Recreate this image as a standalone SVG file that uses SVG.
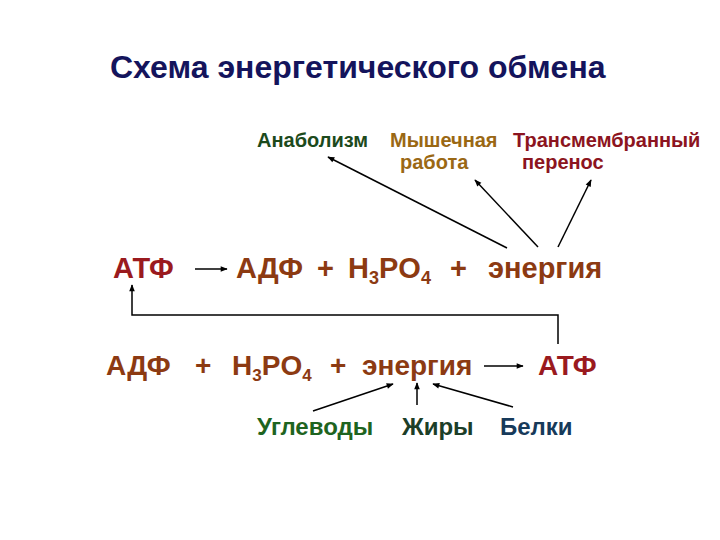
<svg xmlns="http://www.w3.org/2000/svg" width="720" height="540" viewBox="0 0 720 540">
<style>
text{font-family:"Liberation Sans",Arial,sans-serif;font-weight:bold}
.t{font-size:32px;fill:#14145c}
.lab{font-size:20px}
.eq{font-size:29px}
.eq2{font-size:28px}
.bot{font-size:24px}
.ln{stroke:#000;stroke-width:1.5;fill:none}
</style>
<defs>
<marker id="ah" viewBox="0 0 10 10" refX="9" refY="5" markerWidth="8" markerHeight="7" markerUnits="userSpaceOnUse" orient="auto">
<path d="M0,1 L10,5 L0,9 Z" fill="#000"/>
</marker>
</defs>
<rect width="720" height="540" fill="#fff"/>
<g id="title"><text class="t" x="110" y="78">Схема энергетического обмена</text></g>
<g id="anabolism"><text class="lab" x="257" y="147" fill="#1c4a1c">Анаболизм</text></g>
<g id="muscle"><text class="lab" x="390" y="147" fill="#9a6814">Мышечная</text><text class="lab" x="400" y="169" fill="#9a6814">работа</text></g>
<g id="transport"><text class="lab" x="513" y="147" fill="#8c1420">Трансмембранный</text><text class="lab" x="522" y="169" fill="#8c1420">перенос</text></g>
<g id="row1">
<text class="eq" x="113" y="278" fill="#9a1a1e">АТФ</text>
<text class="eq" x="236" y="278" fill="#8c3a12">АДФ</text>
<text class="eq" x="317" y="278" fill="#8c3a12">+</text>
<text class="eq" x="348" y="278" fill="#8c3a12">H<tspan font-size="18" dy="6">3</tspan><tspan dy="-6">PO</tspan><tspan font-size="18" dy="6">4</tspan></text>
<text class="eq" x="450" y="278" fill="#8c3a12">+</text>
<text class="eq" x="488" y="278" fill="#8c3a12">энергия</text>
</g>
<g id="row2">
<text class="eq2" x="106" y="375" fill="#8c3a12">АДФ</text>
<text class="eq2" x="195" y="375" fill="#8c3a12">+</text>
<text class="eq2" x="232" y="375" fill="#8c3a12">H<tspan font-size="17" dy="6">3</tspan><tspan dy="-6">PO</tspan><tspan font-size="17" dy="6">4</tspan></text>
<text class="eq2" x="330" y="375" fill="#8c3a12">+</text>
<text class="eq2" x="362" y="375" fill="#8c3a12">энергия</text>
<text class="eq2" x="538" y="375" fill="#9a1a1e">АТФ</text>
</g>
<g id="sources">
<text class="bot" x="257" y="435" fill="#1e6420">Углеводы</text>
<text class="bot" x="402" y="435" fill="#1c3e28">Жиры</text>
<text class="bot" x="500" y="435" fill="#173a5a">Белки</text>
</g>
<g id="connectors">
<line class="ln" x1="507" y1="248" x2="328" y2="157" marker-end="url(#ah)"/>
<line class="ln" x1="538" y1="247" x2="475" y2="180" marker-end="url(#ah)"/>
<line class="ln" x1="558" y1="247" x2="591" y2="180" marker-end="url(#ah)"/>
<line class="ln" x1="195" y1="269" x2="227" y2="269" marker-end="url(#ah)"/>
<polyline class="ln" points="558,344 558,315 132,315 132,285" marker-end="url(#ah)"/>
<line class="ln" x1="484" y1="366" x2="523" y2="366" marker-end="url(#ah)"/>
<line class="ln" x1="313" y1="411" x2="393" y2="384" marker-end="url(#ah)"/>
<line class="ln" x1="417" y1="405" x2="417" y2="383" marker-end="url(#ah)"/>
<line class="ln" x1="513" y1="407" x2="433" y2="384" marker-end="url(#ah)"/>
</g>
</svg>
